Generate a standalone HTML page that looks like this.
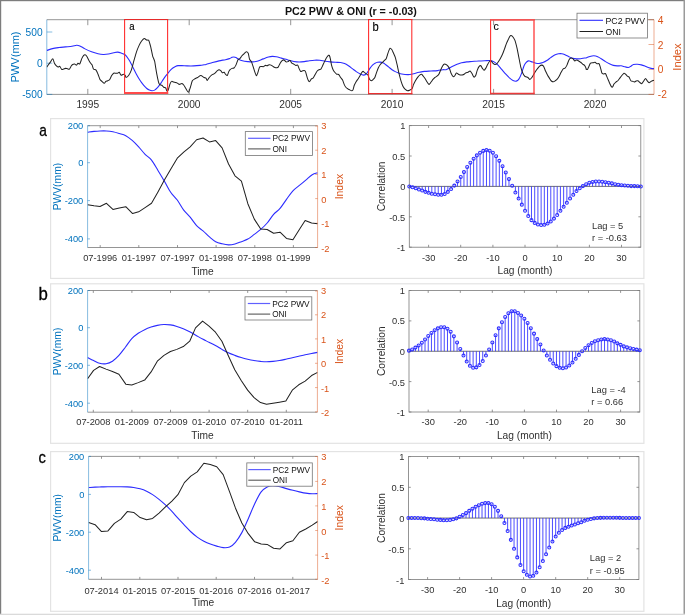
<!DOCTYPE html>
<html><head><meta charset="utf-8"><title>PC2 PWV &amp; ONI</title>
<style>html,body{margin:0;padding:0;background:#fff;}svg{display:block;will-change:transform;}body{font-family:"Liberation Sans",sans-serif;}</style></head>
<body>
<svg width="685" height="615" viewBox="0 0 685 615" font-family="Liberation Sans, sans-serif">
<g opacity="0.995">
<rect x="0" y="0" width="685" height="615" fill="#fff"/>
<g fill="none">
<path d="M46.8,19.7 H654.0 M46.8,94.4 H654.0" stroke="#7a7a7a" stroke-width="0.8"/>
<path d="M87.8,94.4 v-5.5 M87.8,19.7 v5.5 M189.2,94.4 v-5.5 M189.2,19.7 v5.5 M290.7,94.4 v-5.5 M290.7,19.7 v5.5 M392.1,94.4 v-5.5 M392.1,19.7 v5.5 M493.6,94.4 v-5.5 M493.6,19.7 v5.5 M595.0,94.4 v-5.5 M595.0,19.7 v5.5" stroke="#7a7a7a" stroke-width="0.8"/>
<path d="M46.8,19.7 V94.4 M46.8,32 h5.5 M46.8,63.2 h5.5 M46.8,94.4 h5.5" stroke="#0072BD" stroke-width="0.8" opacity="0.6"/>
<path d="M654.0,19.7 V94.4 M654.0,19.7 h-5.5 M654.0,44.5 h-5.5 M654.0,69.4 h-5.5 M654.0,94.4 h-5.5" stroke="#D95319" stroke-width="0.8" opacity="0.6"/>
</g>
<clipPath id="ct"><rect x="46.8" y="19.7" width="607.2" height="74.7"/></clipPath>
<g clip-path="url(#ct)" fill="none" stroke-linejoin="round">
<path d="M46.65,50.56 C47.63,50.24 50.44,49.11 52.50,48.61 C54.56,48.11 56.84,47.85 59.01,47.57 C61.18,47.29 63.34,47.14 65.51,46.92 C67.68,46.70 70.17,46.55 72.02,46.27 C73.86,45.99 75.27,45.29 76.57,45.23 C77.87,45.16 78.41,45.27 79.82,45.88 C81.23,46.49 83.07,47.87 85.02,48.87 C86.98,49.87 89.36,51.04 91.53,51.86 C93.70,52.69 96.08,53.38 98.03,53.81 C99.98,54.25 101.50,54.42 103.24,54.46 C104.97,54.51 106.70,54.36 108.44,54.07 C110.17,53.79 112.12,53.10 113.64,52.77 C115.16,52.45 116.24,52.06 117.54,52.12 C118.85,52.19 120.15,52.69 121.45,53.16 C122.75,53.64 124.16,53.96 125.35,54.98 C126.54,56.00 127.63,57.80 128.60,59.28 C129.58,60.75 130.34,62.20 131.20,63.83 C132.07,65.46 132.94,67.30 133.80,69.03 C134.67,70.77 135.54,72.61 136.41,74.24 C137.27,75.86 138.14,77.38 139.01,78.79 C139.88,80.20 140.74,81.50 141.61,82.69 C142.48,83.88 143.34,84.97 144.21,85.94 C145.08,86.92 145.95,87.85 146.81,88.54 C147.68,89.24 148.55,89.74 149.41,90.11 C150.28,90.47 151.15,90.76 152.02,90.76 C152.88,90.76 153.75,90.58 154.62,90.11 C155.49,89.63 156.35,88.80 157.22,87.89 C158.09,86.98 158.95,85.83 159.82,84.64 C160.69,83.45 161.56,82.04 162.42,80.74 C163.29,79.44 164.16,78.03 165.02,76.84 C165.89,75.64 166.76,74.67 167.63,73.59 C168.49,72.50 169.36,71.27 170.23,70.33 C171.09,69.40 171.96,68.64 172.83,67.99 C173.70,67.34 174.56,66.82 175.43,66.43 C176.30,66.04 176.95,65.78 178.03,65.65 C179.12,65.52 180.42,65.61 181.93,65.65 C183.45,65.69 185.19,65.87 187.14,65.91 C189.09,65.95 191.47,66.00 193.64,65.91 C195.81,65.82 198.41,65.59 200.15,65.39 C201.88,65.20 203.07,64.89 204.05,64.74 C205.02,64.59 204.59,64.85 206.00,64.48 C207.41,64.11 210.34,63.14 212.50,62.53 C214.67,61.92 216.84,61.31 219.01,60.84 C221.18,60.36 223.78,60.04 225.51,59.67 C227.25,59.30 228.33,59.02 229.41,58.63 C230.50,58.24 231.26,57.61 232.02,57.33 C232.78,57.04 233.32,56.89 233.97,56.93 C234.62,56.98 235.16,57.20 235.92,57.59 C236.68,57.98 237.44,58.73 238.52,59.28 C239.60,59.82 240.91,60.45 242.42,60.84 C243.94,61.23 245.89,61.44 247.63,61.62 C249.36,61.79 251.09,61.99 252.83,61.88 C254.56,61.77 256.30,61.47 258.03,60.97 C259.77,60.47 261.50,59.54 263.24,58.89 C264.97,58.24 266.92,57.48 268.44,57.07 C269.96,56.65 271.04,56.46 272.34,56.41 C273.64,56.37 274.73,56.52 276.24,56.80 C277.76,57.09 279.82,57.69 281.45,58.11 C283.07,58.52 284.59,58.86 286.00,59.28 C287.41,59.69 288.60,60.21 289.90,60.58 C291.20,60.95 292.29,61.25 293.80,61.49 C295.32,61.73 297.27,61.99 299.01,62.01 C300.74,62.03 302.48,61.83 304.21,61.62 C305.95,61.40 307.68,60.95 309.41,60.71 C311.15,60.47 312.88,60.25 314.62,60.19 C316.35,60.12 318.09,60.14 319.82,60.32 C321.56,60.49 323.29,60.97 325.02,61.23 C326.76,61.49 328.49,61.70 330.23,61.88 C331.96,62.05 333.70,62.16 335.43,62.27 C337.17,62.38 339.12,62.31 340.63,62.53 C342.15,62.75 343.24,63.03 344.54,63.57 C345.84,64.11 347.14,64.93 348.44,65.78 C349.74,66.63 351.04,67.67 352.34,68.64 C353.64,69.62 354.94,70.75 356.24,71.63 C357.54,72.52 358.95,73.39 360.15,73.98 C361.34,74.56 362.42,75.10 363.40,75.15 C364.37,75.19 365.24,74.82 366.00,74.24 C366.76,73.65 367.30,72.61 367.95,71.63 C368.60,70.66 369.14,69.47 369.90,68.38 C370.66,67.30 371.64,66.00 372.50,65.13 C373.37,64.26 374.24,63.66 375.11,63.18 C375.97,62.70 376.84,62.44 377.71,62.27 C378.57,62.09 379.44,62.05 380.31,62.14 C381.18,62.22 382.04,62.40 382.91,62.79 C383.78,63.18 384.54,63.76 385.51,64.48 C386.49,65.20 387.68,66.21 388.76,67.08 C389.85,67.95 390.93,68.92 392.02,69.68 C393.10,70.44 394.18,71.09 395.27,71.63 C396.35,72.18 397.44,72.54 398.52,72.93 C399.60,73.33 400.69,73.72 401.77,73.98 C402.86,74.24 403.94,74.39 405.02,74.50 C406.11,74.60 407.19,74.67 408.28,74.63 C409.36,74.58 410.34,74.47 411.53,74.24 C412.72,74.00 414.13,73.52 415.43,73.20 C416.73,72.87 417.82,72.59 419.33,72.28 C420.85,71.98 422.59,71.59 424.54,71.37 C426.49,71.16 428.87,71.11 431.04,70.98 C433.21,70.85 435.59,70.81 437.54,70.59 C439.50,70.38 441.34,69.83 442.75,69.68 C444.16,69.53 444.81,70.01 446.00,69.68 C447.19,69.36 448.60,68.38 449.90,67.73 C451.20,67.08 452.50,66.39 453.80,65.78 C455.11,65.17 456.41,64.59 457.71,64.09 C459.01,63.59 460.09,63.16 461.61,62.79 C463.13,62.42 465.08,62.09 466.81,61.88 C468.55,61.66 470.07,61.64 472.02,61.49 C473.97,61.34 476.35,61.10 478.52,60.97 C480.69,60.84 483.07,60.77 485.02,60.71 C486.98,60.64 488.71,60.38 490.23,60.58 C491.75,60.77 492.83,61.12 494.13,61.88 C495.43,62.64 496.73,63.83 498.03,65.13 C499.33,66.43 500.63,68.17 501.93,69.68 C503.24,71.20 504.54,72.83 505.84,74.24 C507.14,75.64 508.55,77.10 509.74,78.14 C510.93,79.18 511.91,79.98 512.99,80.48 C514.08,80.98 515.27,81.35 516.24,81.13 C517.22,80.91 517.98,80.44 518.85,79.18 C519.71,77.92 520.58,75.82 521.45,73.59 C522.31,71.35 523.29,67.62 524.05,65.78 C524.81,63.94 525.24,63.35 526.00,62.53 C526.76,61.70 527.73,60.99 528.60,60.84 C529.47,60.69 530.12,61.27 531.20,61.62 C532.29,61.96 533.80,62.62 535.11,62.92 C536.41,63.22 537.71,63.50 539.01,63.44 C540.31,63.37 541.61,63.01 542.91,62.53 C544.21,62.05 545.51,61.40 546.81,60.58 C548.11,59.75 549.41,58.50 550.72,57.59 C552.02,56.67 553.32,55.74 554.62,55.11 C555.92,54.49 557.33,54.05 558.52,53.81 C559.71,53.57 560.69,53.53 561.77,53.68 C562.86,53.83 563.83,54.22 565.02,54.72 C566.22,55.22 567.63,56.07 568.93,56.67 C570.23,57.28 571.53,58.00 572.83,58.37 C574.13,58.73 575.43,58.82 576.73,58.89 C578.03,58.95 579.33,58.91 580.63,58.76 C581.93,58.60 583.64,58.11 584.54,57.98 C585.43,57.85 585.11,58.24 586.00,57.98 C586.89,57.72 588.60,56.78 589.90,56.41 C591.20,56.05 592.50,55.72 593.80,55.76 C595.11,55.81 596.41,56.13 597.71,56.67 C599.01,57.22 600.31,58.19 601.61,59.02 C602.91,59.84 604.21,60.82 605.51,61.62 C606.81,62.42 608.11,63.20 609.41,63.83 C610.72,64.46 612.02,65.04 613.32,65.39 C614.62,65.74 615.92,65.85 617.22,65.91 C618.52,65.98 619.82,65.63 621.12,65.78 C622.42,65.93 623.83,66.54 625.02,66.82 C626.22,67.10 627.30,67.58 628.28,67.47 C629.25,67.36 630.01,66.67 630.88,66.17 C631.75,65.67 632.40,64.80 633.48,64.48 C634.56,64.15 636.08,64.15 637.38,64.22 C638.68,64.28 639.98,64.54 641.28,64.87 C642.59,65.20 643.89,65.69 645.19,66.17 C646.49,66.65 647.90,67.32 649.09,67.73 C650.28,68.14 651.47,68.53 652.34,68.64 C653.21,68.75 653.97,68.43 654.29,68.38" stroke="#2c2cff" stroke-width="1.1"/>
<path d="M46.65,67.08 C46.88,66.78 48.15,65.09 48.60,64.48 C49.06,63.87 50.07,62.56 50.55,61.88 C51.04,61.20 52.31,58.47 52.76,58.63 C53.22,58.78 54.03,62.34 54.46,63.18 C54.88,64.01 55.95,65.33 56.41,65.78 C56.86,66.24 57.98,67.04 58.36,67.08 C58.74,67.13 59.28,65.91 59.66,66.17 C60.04,66.43 61.15,68.96 61.61,69.29 C62.07,69.63 63.11,69.14 63.56,69.03 C64.02,68.93 65.06,68.41 65.51,68.38 C65.97,68.35 67.01,68.70 67.46,68.77 C67.92,68.85 68.96,69.38 69.41,69.03 C69.87,68.68 70.99,66.31 71.37,65.78 C71.75,65.25 72.29,64.68 72.67,64.48 C73.05,64.28 74.16,64.01 74.62,64.09 C75.07,64.17 76.19,65.24 76.57,65.13 C76.95,65.02 77.49,63.33 77.87,63.18 C78.25,63.03 79.37,64.36 79.82,63.83 C80.28,63.30 81.32,59.61 81.77,58.63 C82.23,57.64 83.34,55.83 83.72,55.37 C84.10,54.92 84.69,54.65 85.02,54.72 C85.36,54.80 86.13,55.34 86.59,56.02 C87.04,56.71 88.43,59.70 88.93,60.58 C89.43,61.46 90.50,63.04 90.88,63.57 C91.26,64.10 91.88,64.49 92.18,65.13 C92.48,65.77 93.02,68.46 93.48,69.03 C93.93,69.61 95.55,69.47 96.08,70.07 C96.61,70.68 97.58,73.14 98.03,74.24 C98.49,75.33 99.53,78.60 99.98,79.44 C100.44,80.27 101.43,80.93 101.93,81.39 C102.44,81.85 103.82,83.34 104.28,83.34 C104.73,83.34 105.43,81.69 105.84,81.39 C106.25,81.09 107.33,80.97 107.79,80.74 C108.24,80.51 109.28,80.05 109.74,79.44 C110.20,78.83 111.24,76.27 111.69,75.54 C112.15,74.81 113.19,73.47 113.64,73.20 C114.10,72.92 115.14,73.20 115.59,73.20 C116.05,73.20 117.12,73.30 117.54,73.20 C117.97,73.09 118.81,72.04 119.24,72.28 C119.66,72.53 120.70,75.05 121.19,75.28 C121.67,75.50 122.91,74.21 123.40,74.24 C123.88,74.27 125.05,75.16 125.35,75.54 C125.65,75.92 125.62,77.49 126.00,77.49 C126.38,77.49 127.99,76.37 128.60,75.54 C129.21,74.70 130.60,72.00 131.20,70.33 C131.81,68.66 133.20,63.35 133.80,61.23 C134.41,59.10 135.80,53.94 136.41,52.12 C137.01,50.30 138.40,46.91 139.01,45.62 C139.62,44.33 141.00,41.90 141.61,41.07 C142.22,40.23 143.60,38.57 144.21,38.46 C144.82,38.36 146.28,39.93 146.81,40.15 C147.34,40.38 148.31,39.63 148.76,40.41 C149.22,41.20 150.26,45.10 150.72,46.92 C151.17,48.74 152.21,54.36 152.67,56.02 C153.12,57.69 154.16,59.25 154.62,61.23 C155.07,63.20 156.11,70.51 156.57,72.93 C157.02,75.36 158.14,80.67 158.52,82.04 C158.90,83.41 159.44,84.26 159.82,84.64 C160.20,85.02 161.32,84.99 161.77,85.29 C162.23,85.60 163.27,86.94 163.72,87.24 C164.18,87.55 165.30,87.44 165.67,87.89 C166.05,88.35 166.67,90.92 166.98,91.15 C167.28,91.37 167.90,90.76 168.28,89.85 C168.66,88.93 169.82,84.33 170.23,83.34 C170.64,82.36 171.41,81.54 171.79,81.39 C172.17,81.24 173.05,81.92 173.48,82.04 C173.90,82.16 174.98,82.31 175.43,82.43 C175.89,82.55 176.93,82.85 177.38,83.08 C177.84,83.31 178.80,84.32 179.33,84.38 C179.86,84.44 181.40,83.50 181.93,83.60 C182.47,83.71 183.43,84.72 183.89,85.29 C184.34,85.87 185.31,87.74 185.84,88.54 C186.37,89.35 187.91,92.34 188.44,92.19 C188.97,92.04 189.93,88.58 190.39,87.24 C190.85,85.91 191.81,81.73 192.34,80.74 C192.87,79.75 194.34,79.17 194.94,78.79 C195.55,78.41 196.86,77.87 197.54,77.49 C198.23,77.11 200.04,75.54 200.80,75.54 C201.56,75.54 203.44,77.18 204.05,77.49 C204.66,77.79 205.62,77.79 206.00,78.14 C206.38,78.49 206.92,80.56 207.30,80.48 C207.68,80.40 208.72,78.14 209.25,77.49 C209.78,76.84 211.25,75.34 211.85,74.89 C212.46,74.43 213.85,74.04 214.46,73.59 C215.06,73.13 216.53,71.44 217.06,70.98 C217.59,70.53 218.55,69.68 219.01,69.68 C219.46,69.68 220.58,70.63 220.96,70.98 C221.34,71.33 221.88,72.52 222.26,72.67 C222.64,72.83 223.83,72.10 224.21,72.28 C224.59,72.47 225.16,73.86 225.51,74.24 C225.86,74.62 226.82,75.84 227.20,75.54 C227.58,75.23 228.43,72.32 228.76,71.63 C229.10,70.95 229.69,70.06 230.07,69.68 C230.44,69.30 231.56,68.58 232.02,68.38 C232.47,68.18 233.51,68.37 233.97,67.99 C234.42,67.61 235.46,66.07 235.92,65.13 C236.37,64.19 237.41,60.69 237.87,59.93 C238.33,59.17 239.37,59.08 239.82,58.63 C240.28,58.17 241.32,56.56 241.77,56.02 C242.23,55.49 243.27,54.53 243.72,54.07 C244.18,53.62 245.30,52.38 245.67,52.12 C246.05,51.86 246.67,51.71 246.98,51.86 C247.28,52.01 247.97,52.56 248.28,53.42 C248.58,54.29 249.20,58.29 249.58,59.28 C249.96,60.26 251.07,60.89 251.53,61.88 C251.98,62.86 253.05,66.44 253.48,67.73 C253.90,69.02 254.82,71.99 255.17,72.93 C255.52,73.88 256.17,75.80 256.47,75.80 C256.78,75.80 257.41,73.95 257.77,72.93 C258.14,71.92 259.18,67.84 259.59,67.08 C260.00,66.32 260.86,66.48 261.28,66.43 C261.71,66.39 262.78,66.81 263.24,66.69 C263.69,66.57 264.73,65.50 265.19,65.39 C265.64,65.28 266.68,65.86 267.14,65.78 C267.59,65.70 268.63,64.82 269.09,64.74 C269.54,64.66 270.59,64.93 271.04,65.13 C271.50,65.33 272.54,66.16 272.99,66.43 C273.45,66.70 274.49,67.32 274.94,67.47 C275.40,67.62 276.51,67.78 276.89,67.73 C277.27,67.69 277.82,67.61 278.20,67.08 C278.57,66.55 279.69,63.94 280.15,63.18 C280.60,62.42 281.64,60.96 282.10,60.58 C282.55,60.20 283.59,59.78 284.05,59.93 C284.50,60.08 285.54,61.68 286.00,61.88 C286.46,62.08 287.50,61.80 287.95,61.62 C288.41,61.44 289.45,60.13 289.90,60.32 C290.36,60.50 291.40,62.74 291.85,63.18 C292.31,63.62 293.35,63.83 293.80,64.09 C294.26,64.35 295.30,65.27 295.76,65.39 C296.21,65.51 297.33,64.78 297.71,65.13 C298.09,65.48 298.67,67.65 299.01,68.38 C299.34,69.11 300.19,71.07 300.57,71.37 C300.95,71.68 301.84,71.07 302.26,70.98 C302.69,70.89 303.83,70.52 304.21,70.59 C304.59,70.67 305.21,70.98 305.51,71.63 C305.82,72.29 306.51,75.20 306.81,76.19 C307.12,77.17 307.81,79.45 308.11,80.09 C308.42,80.73 309.04,81.80 309.41,81.65 C309.79,81.50 310.91,79.23 311.37,78.79 C311.82,78.35 312.86,78.41 313.32,77.88 C313.77,77.35 314.81,75.04 315.27,74.24 C315.72,73.43 316.76,71.51 317.22,70.98 C317.67,70.45 318.75,69.91 319.17,69.68 C319.60,69.46 320.48,69.44 320.86,69.03 C321.24,68.62 322.01,67.01 322.42,66.17 C322.83,65.34 323.92,62.83 324.37,61.88 C324.83,60.92 325.92,58.69 326.33,57.98 C326.73,57.26 327.54,56.07 327.89,55.76 C328.24,55.46 329.01,54.96 329.32,55.37 C329.62,55.78 330.23,58.14 330.49,59.28 C330.75,60.41 331.22,63.92 331.53,65.13 C331.83,66.34 332.71,68.85 333.09,69.68 C333.47,70.52 334.36,71.75 334.78,72.28 C335.21,72.82 336.28,73.98 336.73,74.24 C337.19,74.49 338.23,74.12 338.68,74.50 C339.14,74.88 340.18,76.84 340.63,77.49 C341.09,78.14 342.16,79.25 342.59,80.09 C343.01,80.92 343.90,83.81 344.28,84.64 C344.66,85.48 345.43,86.76 345.84,87.24 C346.25,87.73 347.33,88.50 347.79,88.80 C348.24,89.11 349.28,89.62 349.74,89.85 C350.20,90.07 351.31,90.76 351.69,90.76 C352.07,90.76 352.69,90.48 352.99,89.85 C353.30,89.21 353.91,86.28 354.29,85.29 C354.67,84.31 355.79,82.15 356.24,81.39 C356.70,80.63 357.74,79.47 358.20,78.79 C358.65,78.11 359.77,76.22 360.15,75.54 C360.53,74.85 361.11,73.42 361.45,72.93 C361.78,72.45 362.63,71.40 363.01,71.37 C363.39,71.34 364.35,72.42 364.70,72.67 C365.05,72.93 365.62,73.33 366.00,73.59 C366.38,73.84 367.57,74.28 367.95,74.89 C368.33,75.49 368.87,78.11 369.25,78.79 C369.63,79.47 370.75,80.66 371.20,80.74 C371.66,80.82 372.73,79.82 373.15,79.44 C373.58,79.06 374.47,78.25 374.85,77.49 C375.22,76.73 376.00,74.07 376.41,72.93 C376.82,71.80 377.90,68.72 378.36,67.73 C378.81,66.75 379.85,65.09 380.31,64.48 C380.76,63.87 381.80,62.98 382.26,62.53 C382.72,62.07 383.76,61.03 384.21,60.58 C384.67,60.12 385.78,59.31 386.16,58.63 C386.54,57.94 387.16,55.63 387.46,54.72 C387.77,53.81 388.46,51.58 388.76,50.82 C389.07,50.06 389.72,48.37 390.07,48.22 C390.41,48.07 391.38,48.99 391.76,49.52 C392.14,50.05 392.91,51.86 393.32,52.77 C393.73,53.68 394.81,55.88 395.27,57.33 C395.72,58.77 396.76,63.16 397.22,65.13 C397.67,67.10 398.72,72.34 399.17,74.24 C399.63,76.13 400.67,79.95 401.12,81.39 C401.58,82.83 402.62,85.68 403.07,86.59 C403.53,87.50 404.49,88.71 405.02,89.20 C405.56,89.68 407.02,90.68 407.63,90.76 C408.23,90.83 409.70,90.10 410.23,89.85 C410.76,89.59 411.80,89.15 412.18,88.54 C412.56,87.94 413.10,85.55 413.48,84.64 C413.86,83.73 414.90,81.65 415.43,80.74 C415.96,79.83 417.50,77.52 418.03,76.84 C418.56,76.15 419.56,75.19 419.98,74.89 C420.41,74.58 421.30,74.08 421.67,74.24 C422.05,74.39 422.83,75.66 423.24,76.19 C423.65,76.72 424.73,78.11 425.19,78.79 C425.64,79.47 426.68,81.39 427.14,82.04 C427.59,82.69 428.63,84.38 429.09,84.38 C429.54,84.38 430.59,82.62 431.04,82.04 C431.50,81.46 432.54,79.97 432.99,79.44 C433.45,78.91 434.49,77.87 434.94,77.49 C435.40,77.11 436.44,76.57 436.89,76.19 C437.35,75.81 438.39,74.99 438.85,74.24 C439.30,73.48 440.34,70.67 440.80,69.68 C441.25,68.70 442.37,66.42 442.75,65.78 C443.13,65.14 443.67,64.37 444.05,64.22 C444.43,64.07 445.54,64.25 446.00,64.48 C446.46,64.71 447.53,65.64 447.95,66.17 C448.38,66.70 449.26,68.17 449.64,69.03 C450.02,69.90 450.79,72.71 451.20,73.59 C451.61,74.47 452.73,76.35 453.15,76.58 C453.58,76.80 454.47,75.96 454.85,75.54 C455.22,75.11 456.00,73.09 456.41,72.93 C456.82,72.78 457.90,74.01 458.36,74.24 C458.81,74.46 459.85,74.81 460.31,74.89 C460.76,74.96 461.80,74.96 462.26,74.89 C462.72,74.81 463.76,74.49 464.21,74.24 C464.67,73.98 465.71,72.90 466.16,72.67 C466.62,72.45 467.66,72.48 468.11,72.28 C468.57,72.09 469.61,70.83 470.07,70.98 C470.52,71.14 471.56,72.87 472.02,73.59 C472.47,74.30 473.54,76.87 473.97,77.10 C474.39,77.33 475.28,76.33 475.66,75.54 C476.04,74.75 476.81,71.40 477.22,70.33 C477.63,69.27 478.75,66.96 479.17,66.43 C479.60,65.90 480.48,65.55 480.86,65.78 C481.24,66.01 482.06,67.85 482.42,68.38 C482.79,68.91 483.60,70.33 483.98,70.33 C484.36,70.33 485.25,69.07 485.67,68.38 C486.10,67.70 487.17,65.31 487.63,64.48 C488.08,63.64 489.20,61.68 489.58,61.23 C489.96,60.77 490.50,60.35 490.88,60.58 C491.26,60.80 492.37,62.72 492.83,63.18 C493.28,63.63 494.33,64.40 494.78,64.48 C495.24,64.56 496.28,64.21 496.73,63.83 C497.19,63.45 498.23,61.91 498.68,61.23 C499.14,60.54 500.18,58.81 500.63,57.98 C501.09,57.14 502.13,55.14 502.59,54.07 C503.04,53.01 504.08,50.11 504.54,48.87 C504.99,47.63 506.06,44.47 506.49,43.41 C506.91,42.34 507.80,40.57 508.18,39.76 C508.56,38.96 509.42,37.01 509.74,36.51 C510.06,36.01 510.58,35.47 510.91,35.47 C511.24,35.47 512.13,35.94 512.60,36.51 C513.07,37.09 514.43,39.05 514.94,40.41 C515.46,41.78 516.57,46.25 517.02,48.22 C517.48,50.19 518.41,55.12 518.85,57.33 C519.29,59.53 520.34,65.26 520.80,67.08 C521.25,68.90 522.29,71.87 522.75,72.93 C523.20,74.00 524.32,75.73 524.70,76.19 C525.08,76.64 525.62,76.69 526.00,76.84 C526.38,76.99 527.50,77.18 527.95,77.49 C528.41,77.79 529.45,79.44 529.90,79.44 C530.36,79.44 531.40,78.09 531.85,77.49 C532.31,76.88 533.35,74.99 533.80,74.24 C534.26,73.48 535.30,71.67 535.76,70.98 C536.21,70.30 537.25,68.94 537.71,68.38 C538.16,67.82 539.20,66.55 539.66,66.17 C540.11,65.79 541.15,65.13 541.61,65.13 C542.07,65.13 543.11,65.49 543.56,66.17 C544.02,66.85 545.06,69.97 545.51,70.98 C545.97,72.00 547.01,74.05 547.46,74.89 C547.92,75.72 548.96,77.42 549.41,78.14 C549.87,78.85 550.91,80.58 551.37,81.00 C551.82,81.42 552.86,81.81 553.32,81.78 C553.77,81.75 554.81,81.04 555.27,80.74 C555.72,80.44 556.76,79.71 557.22,79.18 C557.67,78.65 558.72,76.99 559.17,76.19 C559.63,75.38 560.67,73.12 561.12,72.28 C561.58,71.45 562.62,69.52 563.07,69.03 C563.53,68.55 564.57,68.58 565.02,68.12 C565.48,67.67 566.52,66.09 566.98,65.13 C567.43,64.17 568.47,60.76 568.93,59.93 C569.38,59.09 570.42,58.13 570.88,57.98 C571.33,57.82 572.37,58.28 572.83,58.63 C573.28,58.98 574.33,60.82 574.78,60.97 C575.24,61.12 576.28,59.93 576.73,59.93 C577.19,59.93 578.23,60.69 578.68,60.97 C579.14,61.24 580.18,61.90 580.63,62.27 C581.09,62.63 582.13,63.73 582.59,64.09 C583.04,64.45 584.13,64.89 584.54,65.39 C584.95,65.89 585.93,67.96 586.10,68.38 C586.27,68.81 585.83,68.93 586.00,69.03 C586.17,69.14 587.23,69.60 587.56,69.29 C587.89,68.99 588.51,67.14 588.86,66.43 C589.21,65.72 590.05,63.60 590.55,63.18 C591.05,62.75 592.62,62.89 593.15,62.79 C593.69,62.68 594.65,62.15 595.11,62.27 C595.56,62.39 596.60,63.68 597.06,63.83 C597.51,63.98 598.63,63.19 599.01,63.57 C599.39,63.95 599.98,65.99 600.31,67.08 C600.64,68.17 601.49,72.13 601.87,72.93 C602.25,73.74 603.14,73.90 603.56,73.98 C603.99,74.05 605.06,73.10 605.51,73.59 C605.97,74.07 607.01,77.08 607.46,78.14 C607.92,79.20 608.96,81.70 609.41,82.69 C609.87,83.68 610.99,86.09 611.37,86.59 C611.75,87.09 612.36,87.29 612.67,86.98 C612.97,86.68 613.59,84.57 613.97,83.99 C614.35,83.42 615.46,82.42 615.92,82.04 C616.37,81.66 617.41,81.20 617.87,80.74 C618.33,80.28 619.37,78.75 619.82,78.14 C620.28,77.53 621.29,76.11 621.77,75.54 C622.26,74.96 623.53,73.35 623.98,73.20 C624.44,73.04 625.28,73.89 625.67,74.24 C626.07,74.58 626.99,75.88 627.37,76.19 C627.75,76.49 628.52,76.31 628.93,76.84 C629.34,77.37 630.42,80.21 630.88,80.74 C631.33,81.27 632.42,81.24 632.83,81.39 C633.24,81.54 634.01,82.09 634.39,82.04 C634.77,82.00 635.66,81.15 636.08,81.00 C636.51,80.85 637.58,80.54 638.03,80.74 C638.49,80.94 639.53,82.36 639.98,82.69 C640.44,83.02 641.48,83.83 641.93,83.60 C642.39,83.37 643.46,81.35 643.89,80.74 C644.31,80.13 645.20,78.40 645.58,78.40 C645.96,78.40 646.73,80.24 647.14,80.74 C647.55,81.24 648.63,82.62 649.09,82.69 C649.54,82.77 650.59,81.65 651.04,81.39 C651.50,81.13 652.61,80.63 652.99,80.48 C653.37,80.33 654.14,80.13 654.29,80.09" stroke="#202020" stroke-width="1.02"/>
</g>
<path d="M124.6,18.95 V93.9" stroke="#ff2626" stroke-width="1.05" fill="none"/>
<path d="M167.6,18.95 V93.9" stroke="#ff3030" stroke-width="1.1" fill="none"/>
<path d="M124.1,19.5 H168.15" stroke="#e62a2a" stroke-width="1.1" fill="none"/>
<path d="M124.1,92.9 H168.15" stroke="#ff4a4a" stroke-width="2.0" fill="none"/>
<path d="M368.6,18.95 V94.19999999999999" stroke="#ff2626" stroke-width="1.05" fill="none"/>
<path d="M411.8,18.95 V94.19999999999999" stroke="#ff3030" stroke-width="1.1" fill="none"/>
<path d="M368.1,19.5 H412.35" stroke="#e62a2a" stroke-width="1.1" fill="none"/>
<path d="M368.1,93.6 H412.35" stroke="#e83030" stroke-width="1.2" fill="none"/>
<path d="M490.6,19.099999999999998 V94.15" stroke="#ff2626" stroke-width="1.05" fill="none"/>
<path d="M534.0,19.099999999999998 V94.15" stroke="#ff3030" stroke-width="1.25" fill="none"/>
<path d="M490.1,19.9 H534.625" stroke="#f25555" stroke-width="1.6" fill="none"/>
<path d="M490.1,93.5 H534.625" stroke="#ea3a3a" stroke-width="1.3" fill="none"/>
<text transform="translate(129.3,29.6) scale(0.82,1)" font-size="11.7" fill="#000" stroke="#000" stroke-width="0.15">a</text>
<text transform="translate(372.5,30.8) scale(0.9,1)" font-size="12.4" fill="#000" stroke="#000" stroke-width="0.15">b</text>
<text transform="translate(493.5,29.8) scale(0.92,1)" font-size="11.5" fill="#000" stroke="#000" stroke-width="0.15">c</text>
<rect x="577" y="13.2" width="70.5" height="24.8" fill="#fff" stroke="#757575" stroke-width="0.8"/>
<path d="M579.5,20.3 h23.5" stroke="#2c2cff" stroke-width="1.1"/><path d="M579.5,31.5 h23.5" stroke="#202020" stroke-width="1.02"/>
<text x="605.5" y="23.5" font-size="8.6" fill="#111" textLength="39.5" lengthAdjust="spacingAndGlyphs">PC2 PWV</text>
<text x="605.5" y="34.7" font-size="8.6" fill="#111">ONI</text>
<text x="350.9" y="15.4" font-size="10.4" font-weight="bold" fill="#111" text-anchor="middle" textLength="132" lengthAdjust="spacingAndGlyphs">PC2 PWV &amp; ONI (r = -0.03)</text>
<text x="87.8" y="108.3" font-size="10.2" fill="#303030" text-anchor="middle">1995</text>
<text x="189.2" y="108.3" font-size="10.2" fill="#303030" text-anchor="middle">2000</text>
<text x="290.7" y="108.3" font-size="10.2" fill="#303030" text-anchor="middle">2005</text>
<text x="392.1" y="108.3" font-size="10.2" fill="#303030" text-anchor="middle">2010</text>
<text x="493.6" y="108.3" font-size="10.2" fill="#303030" text-anchor="middle">2015</text>
<text x="595.0" y="108.3" font-size="10.2" fill="#303030" text-anchor="middle">2020</text>
<text x="42.6" y="35.9" font-size="10.2" fill="#0072BD" text-anchor="end">500</text>
<text x="42.6" y="67.10000000000001" font-size="10.2" fill="#0072BD" text-anchor="end">0</text>
<text x="42.6" y="98.30000000000001" font-size="10.2" fill="#0072BD" text-anchor="end">-500</text>
<text x="657.8" y="23.7" font-size="10.2" fill="#D95319">4</text>
<text x="657.8" y="48.5" font-size="10.2" fill="#D95319">2</text>
<text x="657.8" y="73.4" font-size="10.2" fill="#D95319">0</text>
<text x="657.8" y="98.4" font-size="10.2" fill="#D95319">-2</text>
<text transform="translate(18.5,57) rotate(-90)" font-size="11.1" fill="#0072BD" text-anchor="middle">PWV(mm)</text>
<text transform="translate(680.5,57) rotate(-90)" font-size="11.2" fill="#D95319" text-anchor="middle">Index</text>
<rect x="50.6" y="118.6" width="593.3" height="159.79999999999998" fill="#fff" stroke="#e3e3e3" stroke-width="1.2"/>
<text transform="translate(39.2,136.4) scale(0.83,1)" font-size="16.5" fill="#000" stroke="#000" stroke-width="0.3">a</text>
<g fill="none">
<path d="M87.6,125.7 H317.6 M87.6,247.5 H317.6" stroke="#7a7a7a" stroke-width="0.8"/>
<path d="M100.2,247.5 v-2.4 M100.2,125.7 v2.4 M138.8,247.5 v-2.4 M138.8,125.7 v2.4 M177.5,247.5 v-2.4 M177.5,125.7 v2.4 M216.1,247.5 v-2.4 M216.1,125.7 v2.4 M254.8,247.5 v-2.4 M254.8,125.7 v2.4 M293.4,247.5 v-2.4 M293.4,125.7 v2.4" stroke="#7a7a7a" stroke-width="0.8"/>
<path d="M87.6,125.7 V247.5 M87.6,125.7 h2.4 M87.6,162.7 h2.4 M87.6,200.6 h2.4 M87.6,238.9 h2.4" stroke="#0072BD" stroke-width="0.8" opacity="0.6"/>
<path d="M317.6,125.7 V247.5 M317.6,126.0 h-2.4 M317.6,150.2 h-2.4 M317.6,174.4 h-2.4 M317.6,198.6 h-2.4 M317.6,223.2 h-2.4 M317.6,247.5 h-2.4" stroke="#D95319" stroke-width="0.8" opacity="0.6"/>
</g>
<clipPath id="cp0"><rect x="87.6" y="125.7" width="230.00000000000003" height="121.8"/></clipPath>
<g clip-path="url(#cp0)" fill="none" stroke-linejoin="round">
<path d="M87.58,132.23 C88.65,132.09 91.94,131.59 94.01,131.37 C96.09,131.16 97.95,131.02 100.02,130.94 C102.10,130.87 104.31,130.80 106.46,130.94 C108.61,131.09 110.75,131.37 112.90,131.80 C115.04,132.23 117.19,132.88 119.33,133.52 C121.48,134.16 123.63,134.52 125.77,135.67 C127.92,136.81 130.06,138.53 132.21,140.39 C134.36,142.25 136.50,144.50 138.65,146.82 C140.79,149.15 142.94,152.12 145.09,154.33 C147.23,156.55 149.38,157.45 151.52,160.13 C153.67,162.81 155.82,166.92 157.96,170.43 C160.11,173.93 162.25,177.47 164.40,181.16 C166.55,184.84 168.69,189.38 170.84,192.53 C172.98,195.68 175.13,197.11 177.27,200.04 C179.42,202.98 181.57,207.27 183.71,210.13 C185.86,212.99 188.00,214.64 190.15,217.21 C192.30,219.79 194.44,223.29 196.59,225.58 C198.73,227.87 200.88,229.05 203.03,230.94 C205.17,232.84 207.36,235.16 209.46,236.95 C211.57,238.74 213.56,240.53 215.67,241.67 C217.77,242.82 219.96,243.28 222.10,243.82 C224.25,244.36 226.39,244.86 228.54,244.89 C230.69,244.93 232.83,244.57 234.98,244.03 C237.12,243.50 239.27,242.50 241.42,241.67 C243.56,240.85 245.71,240.31 247.85,239.10 C250.00,237.88 252.15,235.99 254.29,234.38 C256.44,232.77 258.58,231.34 260.73,229.44 C262.88,227.55 265.02,225.51 267.17,223.00 C269.31,220.50 271.46,216.85 273.61,214.42 C275.75,211.99 277.90,210.92 280.04,208.41 C282.19,205.91 284.33,202.33 286.48,199.40 C288.63,196.47 290.77,193.14 292.92,190.82 C295.06,188.49 297.21,187.24 299.36,185.45 C301.50,183.66 303.65,181.87 305.79,180.09 C307.94,178.30 310.26,175.94 312.23,174.72 C314.20,173.51 316.70,173.11 317.60,172.79" stroke="#2c2cff" stroke-width="1.1"/>
<path d="M87.58,204.76 L94.01,205.84 L100.02,206.48 L106.46,203.26 L112.90,209.48 L119.33,207.98 L125.77,206.70 L132.64,213.56 L138.65,211.85 L145.09,207.55 L151.52,203.26 L157.96,191.89 L164.40,180.09 L170.84,168.93 L177.27,158.20 L183.71,152.19 L190.15,146.82 L196.59,139.74 L203.03,138.03 L209.46,141.89 L215.67,140.60 L222.10,147.90 L228.54,163.99 L234.98,175.79 L241.42,181.16 L247.85,203.69 L254.29,219.14 L260.73,229.01 L267.17,229.44 L273.61,233.30 L280.04,232.23 L286.48,238.45 L292.92,239.74 L299.36,229.44 L305.15,220.43 L311.59,223.00 L317.60,223.65" stroke="#202020" stroke-width="1.02"/>
</g>
<rect x="245.3" y="131.6" width="67.09999999999997" height="23.80000000000001" fill="#fff" stroke="#757575" stroke-width="0.8"/>
<path d="M248.10000000000002,138.29999999999998 h22.4" stroke="#2c2cff" stroke-width="1.2" opacity="0.75"/><path d="M248.10000000000002,148.9 h22.4" stroke="#202020" stroke-width="1.1" opacity="0.75"/>
<text x="272.5" y="141.29999999999998" font-size="8.2" fill="#111" textLength="37.5" lengthAdjust="spacingAndGlyphs">PC2 PWV</text>
<text x="272.5" y="151.9" font-size="8.2" fill="#111">ONI</text>
<text x="100.2" y="260.7" font-size="9.3" fill="#303030" text-anchor="middle">07-1996</text>
<text x="138.8" y="260.7" font-size="9.3" fill="#303030" text-anchor="middle">01-1997</text>
<text x="177.5" y="260.7" font-size="9.3" fill="#303030" text-anchor="middle">07-1997</text>
<text x="216.1" y="260.7" font-size="9.3" fill="#303030" text-anchor="middle">01-1998</text>
<text x="254.8" y="260.7" font-size="9.3" fill="#303030" text-anchor="middle">07-1998</text>
<text x="293.4" y="260.7" font-size="9.3" fill="#303030" text-anchor="middle">01-1999</text>
<text x="83.3" y="129.0" font-size="9.3" fill="#0072BD" text-anchor="end">200</text>
<text x="83.3" y="166.0" font-size="9.3" fill="#0072BD" text-anchor="end">0</text>
<text x="83.3" y="203.9" font-size="9.3" fill="#0072BD" text-anchor="end">-200</text>
<text x="83.3" y="242.2" font-size="9.3" fill="#0072BD" text-anchor="end">-400</text>
<text x="321.20000000000005" y="128.9" font-size="9.3" fill="#D95319">3</text>
<text x="321.20000000000005" y="153.6" font-size="9.3" fill="#D95319">2</text>
<text x="321.20000000000005" y="177.8" font-size="9.3" fill="#D95319">1</text>
<text x="321.20000000000005" y="202.6" font-size="9.3" fill="#D95319">0</text>
<text x="321.20000000000005" y="227.2" font-size="9.3" fill="#D95319">-1</text>
<text x="321.20000000000005" y="251.8" font-size="9.3" fill="#D95319">-2</text>
<text transform="translate(61.2,186.6) rotate(-90)" font-size="10.3" fill="#0072BD" text-anchor="middle">PWV(mm)</text>
<text transform="translate(343.0,186.6) rotate(-90)" font-size="10.4" fill="#D95319" text-anchor="middle">Index</text>
<text x="202.6" y="274.5" font-size="10.2" fill="#303030" text-anchor="middle">Time</text>
<rect x="409.3" y="125.6" width="231.49999999999994" height="121.6" fill="none" stroke="#7a7a7a" stroke-width="0.8"/>
<text x="428.6" y="260.5" font-size="9.3" fill="#303030" text-anchor="middle">-30</text>
<text x="460.7" y="260.5" font-size="9.3" fill="#303030" text-anchor="middle">-20</text>
<text x="492.9" y="260.5" font-size="9.3" fill="#303030" text-anchor="middle">-10</text>
<text x="525.0" y="260.5" font-size="9.3" fill="#303030" text-anchor="middle">0</text>
<text x="557.2" y="260.5" font-size="9.3" fill="#303030" text-anchor="middle">10</text>
<text x="589.4" y="260.5" font-size="9.3" fill="#303030" text-anchor="middle">20</text>
<text x="621.5" y="260.5" font-size="9.3" fill="#303030" text-anchor="middle">30</text>
<text x="405.3" y="128.9" font-size="9.3" fill="#303030" text-anchor="end">1</text>
<text x="405.3" y="159.5" font-size="9.3" fill="#303030" text-anchor="end">0.5</text>
<text x="405.3" y="190.1" font-size="9.3" fill="#303030" text-anchor="end">0</text>
<text x="405.3" y="220.8" font-size="9.3" fill="#303030" text-anchor="end">-0.5</text>
<text x="405.3" y="251.4" font-size="9.3" fill="#303030" text-anchor="end">-1</text>
<path d="M428.6,247.2 v-2.4 M428.6,125.6 v2.4 M460.7,247.2 v-2.4 M460.7,125.6 v2.4 M492.9,247.2 v-2.4 M492.9,125.6 v2.4 M525.0,247.2 v-2.4 M525.0,125.6 v2.4 M557.2,247.2 v-2.4 M557.2,125.6 v2.4 M589.4,247.2 v-2.4 M589.4,125.6 v2.4 M621.5,247.2 v-2.4 M621.5,125.6 v2.4 M409.3,125.6 h2.4 M640.8,125.6 h-2.4 M409.3,156.0 h2.4 M640.8,156.0 h-2.4 M409.3,186.4 h2.4 M640.8,186.4 h-2.4 M409.3,216.8 h2.4 M640.8,216.8 h-2.4 M409.3,247.2 h2.4 M640.8,247.2 h-2.4" stroke="#7a7a7a" stroke-width="0.8" fill="none"/>
<path d="M409.3,186.40 H640.8" stroke="#333" stroke-width="0.7"/>
<path d="M409.30,186.40 V186.40 M412.52,186.40 V187.19 M415.73,186.40 V188.22 M418.95,186.40 V189.44 M422.16,186.40 V190.41 M425.38,186.40 V191.87 M428.59,186.40 V192.84 M431.81,186.40 V193.70 M435.02,186.40 V194.30 M438.24,186.40 V194.73 M441.45,186.40 V194.73 M444.67,186.40 V193.94 M447.88,186.40 V191.87 M451.10,186.40 V189.08 M454.31,186.40 V185.61 M457.53,186.40 V181.54 M460.74,186.40 V176.98 M463.96,186.40 V172.11 M467.18,186.40 V166.94 M470.39,186.40 V162.69 M473.61,186.40 V158.74 M476.82,186.40 V155.39 M480.04,186.40 V152.78 M483.25,186.40 V150.89 M486.47,186.40 V150.10 M489.68,186.40 V150.65 M492.90,186.40 V152.78 M496.11,186.40 V156.30 M499.33,186.40 V160.86 M502.54,186.40 V166.34 M505.76,186.40 V172.42 M508.97,186.40 V179.10 M512.19,186.40 V185.79 M515.40,186.40 V192.48 M518.62,186.40 V198.56 M521.83,186.40 V204.64 M525.05,186.40 V210.72 M528.27,186.40 V215.95 M531.48,186.40 V220.14 M534.70,186.40 V222.88 M537.91,186.40 V224.52 M541.13,186.40 V225.07 M544.34,186.40 V224.70 M547.56,186.40 V223.49 M550.77,186.40 V221.48 M553.99,186.40 V218.62 M557.20,186.40 V214.98 M560.42,186.40 V210.72 M563.63,186.40 V206.83 M566.85,186.40 V202.69 M570.06,186.40 V198.56 M573.28,186.40 V194.67 M576.49,186.40 V191.08 M579.71,186.40 V188.22 M582.92,186.40 V186.10 M586.14,186.40 V184.21 M589.36,186.40 V182.75 M592.57,186.40 V181.96 M595.79,186.40 V181.54 M599.00,186.40 V181.54 M602.22,186.40 V181.72 M605.43,186.40 V182.27 M608.65,186.40 V182.75 M611.86,186.40 V183.36 M615.08,186.40 V184.21 M618.29,186.40 V184.76 M621.51,186.40 V185.31 M624.72,186.40 V185.55 M627.94,186.40 V185.79 M631.15,186.40 V186.10 M634.37,186.40 V186.10 M637.58,186.40 V186.22 M640.80,186.40 V186.40" stroke="#2c2cff" stroke-width="0.85" fill="none"/>
<g fill="none" stroke="#2c2cff" stroke-width="1.05"><circle cx="409.30" cy="186.40" r="1.5"/><circle cx="412.52" cy="187.19" r="1.5"/><circle cx="415.73" cy="188.22" r="1.5"/><circle cx="418.95" cy="189.44" r="1.5"/><circle cx="422.16" cy="190.41" r="1.5"/><circle cx="425.38" cy="191.87" r="1.5"/><circle cx="428.59" cy="192.84" r="1.5"/><circle cx="431.81" cy="193.70" r="1.5"/><circle cx="435.02" cy="194.30" r="1.5"/><circle cx="438.24" cy="194.73" r="1.5"/><circle cx="441.45" cy="194.73" r="1.5"/><circle cx="444.67" cy="193.94" r="1.5"/><circle cx="447.88" cy="191.87" r="1.5"/><circle cx="451.10" cy="189.08" r="1.5"/><circle cx="454.31" cy="185.61" r="1.5"/><circle cx="457.53" cy="181.54" r="1.5"/><circle cx="460.74" cy="176.98" r="1.5"/><circle cx="463.96" cy="172.11" r="1.5"/><circle cx="467.18" cy="166.94" r="1.5"/><circle cx="470.39" cy="162.69" r="1.5"/><circle cx="473.61" cy="158.74" r="1.5"/><circle cx="476.82" cy="155.39" r="1.5"/><circle cx="480.04" cy="152.78" r="1.5"/><circle cx="483.25" cy="150.89" r="1.5"/><circle cx="486.47" cy="150.10" r="1.5"/><circle cx="489.68" cy="150.65" r="1.5"/><circle cx="492.90" cy="152.78" r="1.5"/><circle cx="496.11" cy="156.30" r="1.5"/><circle cx="499.33" cy="160.86" r="1.5"/><circle cx="502.54" cy="166.34" r="1.5"/><circle cx="505.76" cy="172.42" r="1.5"/><circle cx="508.97" cy="179.10" r="1.5"/><circle cx="512.19" cy="185.79" r="1.5"/><circle cx="515.40" cy="192.48" r="1.5"/><circle cx="518.62" cy="198.56" r="1.5"/><circle cx="521.83" cy="204.64" r="1.5"/><circle cx="525.05" cy="210.72" r="1.5"/><circle cx="528.27" cy="215.95" r="1.5"/><circle cx="531.48" cy="220.14" r="1.5"/><circle cx="534.70" cy="222.88" r="1.5"/><circle cx="537.91" cy="224.52" r="1.5"/><circle cx="541.13" cy="225.07" r="1.5"/><circle cx="544.34" cy="224.70" r="1.5"/><circle cx="547.56" cy="223.49" r="1.5"/><circle cx="550.77" cy="221.48" r="1.5"/><circle cx="553.99" cy="218.62" r="1.5"/><circle cx="557.20" cy="214.98" r="1.5"/><circle cx="560.42" cy="210.72" r="1.5"/><circle cx="563.63" cy="206.83" r="1.5"/><circle cx="566.85" cy="202.69" r="1.5"/><circle cx="570.06" cy="198.56" r="1.5"/><circle cx="573.28" cy="194.67" r="1.5"/><circle cx="576.49" cy="191.08" r="1.5"/><circle cx="579.71" cy="188.22" r="1.5"/><circle cx="582.92" cy="186.10" r="1.5"/><circle cx="586.14" cy="184.21" r="1.5"/><circle cx="589.36" cy="182.75" r="1.5"/><circle cx="592.57" cy="181.96" r="1.5"/><circle cx="595.79" cy="181.54" r="1.5"/><circle cx="599.00" cy="181.54" r="1.5"/><circle cx="602.22" cy="181.72" r="1.5"/><circle cx="605.43" cy="182.27" r="1.5"/><circle cx="608.65" cy="182.75" r="1.5"/><circle cx="611.86" cy="183.36" r="1.5"/><circle cx="615.08" cy="184.21" r="1.5"/><circle cx="618.29" cy="184.76" r="1.5"/><circle cx="621.51" cy="185.31" r="1.5"/><circle cx="624.72" cy="185.55" r="1.5"/><circle cx="627.94" cy="185.79" r="1.5"/><circle cx="631.15" cy="186.10" r="1.5"/><circle cx="634.37" cy="186.10" r="1.5"/><circle cx="637.58" cy="186.22" r="1.5"/><circle cx="640.80" cy="186.40" r="1.5"/></g>
<text x="592.0" y="228.8" font-size="9.3" fill="#303030">Lag = 5</text>
<text x="592.0" y="240.8" font-size="9.3" fill="#303030">r = -0.63</text>
<text x="525.0" y="274.2" font-size="10.2" fill="#303030" text-anchor="middle">Lag (month)</text>
<text transform="translate(385.0,186.4) rotate(-90)" font-size="10.2" fill="#303030" text-anchor="middle">Correlation</text>
<rect x="50.6" y="283.8" width="593.3" height="159.5" fill="#fff" stroke="#e3e3e3" stroke-width="1.2"/>
<text transform="translate(38.5,300.4) scale(0.96,1)" font-size="17.5" fill="#000" stroke="#000" stroke-width="0.3">b</text>
<g fill="none">
<path d="M87.6,290.5 H317.4 M87.6,412.2 H317.4" stroke="#7a7a7a" stroke-width="0.8"/>
<path d="M93.3,412.2 v-2.4 M93.3,290.5 v2.4 M131.9,412.2 v-2.4 M131.9,290.5 v2.4 M170.5,412.2 v-2.4 M170.5,290.5 v2.4 M209.1,412.2 v-2.4 M209.1,290.5 v2.4 M247.7,412.2 v-2.4 M247.7,290.5 v2.4 M286.3,412.2 v-2.4 M286.3,290.5 v2.4" stroke="#7a7a7a" stroke-width="0.8"/>
<path d="M87.6,290.5 V412.2 M87.6,290.5 h2.4 M87.6,327.7 h2.4 M87.6,365.3 h2.4 M87.6,403.2 h2.4" stroke="#0072BD" stroke-width="0.8" opacity="0.6"/>
<path d="M317.4,290.5 V412.2 M317.4,291.0 h-2.4 M317.4,314.8 h-2.4 M317.4,338.9 h-2.4 M317.4,363.3 h-2.4 M317.4,387.6 h-2.4 M317.4,411.9 h-2.4" stroke="#D95319" stroke-width="0.8" opacity="0.6"/>
</g>
<clipPath id="cp1"><rect x="87.6" y="290.5" width="229.79999999999998" height="121.69999999999999"/></clipPath>
<g clip-path="url(#cp1)" fill="none" stroke-linejoin="round">
<path d="M87.58,357.53 C88.58,358.03 91.58,359.57 93.58,360.54 C95.59,361.50 97.52,362.79 99.59,363.33 C101.67,363.86 103.88,364.11 106.03,363.76 C108.18,363.40 110.32,362.58 112.47,361.18 C114.61,359.79 116.76,357.71 118.91,355.39 C121.05,353.06 123.20,350.02 125.34,347.23 C127.49,344.44 129.64,340.97 131.78,338.65 C133.93,336.32 136.07,334.79 138.22,333.28 C140.36,331.78 142.51,330.67 144.66,329.64 C146.80,328.60 148.98,327.78 151.09,327.06 C153.20,326.34 155.17,325.77 157.32,325.34 C159.46,324.91 161.79,324.56 163.97,324.48 C166.15,324.41 168.26,324.59 170.41,324.91 C172.55,325.24 174.70,325.77 176.85,326.42 C178.99,327.06 181.14,327.88 183.28,328.78 C185.43,329.67 187.58,330.67 189.72,331.78 C191.87,332.89 194.02,334.21 196.16,335.43 C198.30,336.65 200.43,337.93 202.58,339.08 C204.72,340.22 206.87,341.22 209.01,342.30 C211.16,343.37 213.30,344.33 215.45,345.52 C217.60,346.70 219.74,348.16 221.89,349.38 C224.03,350.59 226.18,351.81 228.33,352.81 C230.47,353.81 232.62,354.60 234.76,355.39 C236.91,356.17 239.06,356.89 241.20,357.53 C243.35,358.18 245.49,358.75 247.64,359.25 C249.79,359.75 251.93,360.18 254.08,360.54 C256.22,360.89 258.44,361.18 260.52,361.39 C262.59,361.61 264.45,361.82 266.52,361.82 C268.60,361.82 270.82,361.61 272.96,361.39 C275.11,361.18 277.25,360.89 279.40,360.54 C281.55,360.18 283.69,359.71 285.84,359.25 C287.98,358.78 290.13,358.25 292.27,357.75 C294.42,357.25 296.57,356.75 298.71,356.24 C300.86,355.74 303.00,355.21 305.15,354.74 C307.30,354.28 309.51,353.85 311.59,353.45 C313.66,353.06 316.60,352.56 317.60,352.38" stroke="#2c2cff" stroke-width="1.1"/>
<path d="M87.58,378.78 L93.58,370.41 L99.59,366.55 L106.03,369.12 L112.47,371.48 L118.91,374.27 L125.77,384.14 L131.78,385.00 L138.22,382.64 L144.66,380.06 L151.09,371.91 L157.32,361.18 L163.97,355.39 L170.41,351.52 L176.85,349.38 L183.28,346.59 L189.72,341.22 L195.52,327.92 L202.58,321.05 L209.01,326.20 L215.45,332.21 L221.89,341.22 L228.33,355.82 L234.76,369.76 L241.20,380.49 L247.64,390.15 L254.08,397.66 L260.52,402.60 L266.52,404.31 L272.96,403.24 L279.40,402.17 L285.84,401.09 L292.27,390.15 L298.71,384.79 L305.15,381.14 L311.59,375.56 L317.60,372.34" stroke="#202020" stroke-width="1.02"/>
</g>
<rect x="245.0" y="296.8" width="66.80000000000001" height="23.19999999999999" fill="#fff" stroke="#757575" stroke-width="0.8"/>
<path d="M247.8,303.5 h22.4" stroke="#2c2cff" stroke-width="1.2" opacity="0.75"/><path d="M247.8,314.1 h22.4" stroke="#202020" stroke-width="1.1" opacity="0.75"/>
<text x="272.2" y="306.5" font-size="8.2" fill="#111" textLength="37.5" lengthAdjust="spacingAndGlyphs">PC2 PWV</text>
<text x="272.2" y="317.1" font-size="8.2" fill="#111">ONI</text>
<text x="93.3" y="425.4" font-size="9.3" fill="#303030" text-anchor="middle">07-2008</text>
<text x="131.9" y="425.4" font-size="9.3" fill="#303030" text-anchor="middle">01-2009</text>
<text x="170.5" y="425.4" font-size="9.3" fill="#303030" text-anchor="middle">07-2009</text>
<text x="209.1" y="425.4" font-size="9.3" fill="#303030" text-anchor="middle">01-2010</text>
<text x="247.7" y="425.4" font-size="9.3" fill="#303030" text-anchor="middle">07-2010</text>
<text x="286.3" y="425.4" font-size="9.3" fill="#303030" text-anchor="middle">01-2011</text>
<text x="83.3" y="293.8" font-size="9.3" fill="#0072BD" text-anchor="end">200</text>
<text x="83.3" y="331.0" font-size="9.3" fill="#0072BD" text-anchor="end">0</text>
<text x="83.3" y="368.6" font-size="9.3" fill="#0072BD" text-anchor="end">-200</text>
<text x="83.3" y="406.5" font-size="9.3" fill="#0072BD" text-anchor="end">-400</text>
<text x="321.0" y="293.9" font-size="9.3" fill="#D95319">3</text>
<text x="321.0" y="318.2" font-size="9.3" fill="#D95319">2</text>
<text x="321.0" y="342.6" font-size="9.3" fill="#D95319">1</text>
<text x="321.0" y="367.2" font-size="9.3" fill="#D95319">0</text>
<text x="321.0" y="391.7" font-size="9.3" fill="#D95319">-1</text>
<text x="321.0" y="416.1" font-size="9.3" fill="#D95319">-2</text>
<text transform="translate(61.2,351.4) rotate(-90)" font-size="10.3" fill="#0072BD" text-anchor="middle">PWV(mm)</text>
<text transform="translate(343.0,351.4) rotate(-90)" font-size="10.4" fill="#D95319" text-anchor="middle">Index</text>
<text x="202.5" y="439.2" font-size="10.2" fill="#303030" text-anchor="middle">Time</text>
<rect x="409.0" y="290.5" width="230.79999999999995" height="121.5" fill="none" stroke="#7a7a7a" stroke-width="0.8"/>
<text x="428.2" y="425.3" font-size="9.3" fill="#303030" text-anchor="middle">-30</text>
<text x="460.3" y="425.3" font-size="9.3" fill="#303030" text-anchor="middle">-20</text>
<text x="492.3" y="425.3" font-size="9.3" fill="#303030" text-anchor="middle">-10</text>
<text x="524.4" y="425.3" font-size="9.3" fill="#303030" text-anchor="middle">0</text>
<text x="556.5" y="425.3" font-size="9.3" fill="#303030" text-anchor="middle">10</text>
<text x="588.5" y="425.3" font-size="9.3" fill="#303030" text-anchor="middle">20</text>
<text x="620.6" y="425.3" font-size="9.3" fill="#303030" text-anchor="middle">30</text>
<text x="405.0" y="293.8" font-size="9.3" fill="#303030" text-anchor="end">1</text>
<text x="405.0" y="324.4" font-size="9.3" fill="#303030" text-anchor="end">0.5</text>
<text x="405.0" y="355.0" font-size="9.3" fill="#303030" text-anchor="end">0</text>
<text x="405.0" y="385.6" font-size="9.3" fill="#303030" text-anchor="end">-0.5</text>
<text x="405.0" y="416.2" font-size="9.3" fill="#303030" text-anchor="end">-1</text>
<path d="M428.2,412.0 v-2.4 M428.2,290.5 v2.4 M460.3,412.0 v-2.4 M460.3,290.5 v2.4 M492.3,412.0 v-2.4 M492.3,290.5 v2.4 M524.4,412.0 v-2.4 M524.4,290.5 v2.4 M556.5,412.0 v-2.4 M556.5,290.5 v2.4 M588.5,412.0 v-2.4 M588.5,290.5 v2.4 M620.6,412.0 v-2.4 M620.6,290.5 v2.4 M409.0,290.5 h2.4 M639.8,290.5 h-2.4 M409.0,320.9 h2.4 M639.8,320.9 h-2.4 M409.0,351.2 h2.4 M639.8,351.2 h-2.4 M409.0,381.6 h2.4 M639.8,381.6 h-2.4 M409.0,412.0 h2.4 M639.8,412.0 h-2.4" stroke="#7a7a7a" stroke-width="0.8" fill="none"/>
<path d="M409.0,351.25 H639.8" stroke="#333" stroke-width="0.7"/>
<path d="M409.00,351.25 V350.64 M412.21,351.25 V349.43 M415.41,351.25 V347.61 M418.62,351.25 V345.48 M421.82,351.25 V342.75 M425.03,351.25 V339.40 M428.23,351.25 V336.06 M431.44,351.25 V333.02 M434.64,351.25 V330.29 M437.85,351.25 V328.35 M441.06,351.25 V327.25 M444.26,351.25 V327.25 M447.47,351.25 V328.77 M450.67,351.25 V331.81 M453.88,351.25 V336.37 M457.08,351.25 V342.44 M460.29,351.25 V349.06 M463.49,351.25 V355.50 M466.70,351.25 V361.58 M469.91,351.25 V365.83 M473.11,351.25 V367.65 M476.32,351.25 V367.35 M479.52,351.25 V365.04 M482.73,351.25 V360.97 M485.93,351.25 V355.50 M489.14,351.25 V349.43 M492.34,351.25 V342.44 M495.55,351.25 V335.21 M498.76,351.25 V328.35 M501.96,351.25 V322.27 M505.17,351.25 V316.99 M508.37,351.25 V313.28 M511.58,351.25 V311.15 M514.78,351.25 V311.15 M517.99,351.25 V312.98 M521.19,351.25 V315.41 M524.40,351.25 V318.69 M527.61,351.25 V323.06 M530.81,351.25 V328.17 M534.02,351.25 V333.63 M537.22,351.25 V339.10 M540.43,351.25 V344.57 M543.63,351.25 V350.40 M546.84,351.25 V355.50 M550.04,351.25 V359.75 M553.25,351.25 V363.40 M556.46,351.25 V366.13 M559.66,351.25 V367.83 M562.87,351.25 V368.26 M566.07,351.25 V367.53 M569.28,351.25 V365.59 M572.48,351.25 V362.55 M575.69,351.25 V358.72 M578.89,351.25 V354.89 M582.10,351.25 V351.25 M585.31,351.25 V347.91 M588.51,351.25 V345.18 M591.72,351.25 V342.99 M594.92,351.25 V341.29 M598.13,351.25 V340.31 M601.33,351.25 V339.40 M604.54,351.25 V339.10 M607.74,351.25 V339.40 M610.95,351.25 V340.31 M614.16,351.25 V341.53 M617.36,351.25 V343.35 M620.57,351.25 V344.87 M623.77,351.25 V346.39 M626.98,351.25 V347.36 M630.18,351.25 V348.21 M633.39,351.25 V349.06 M636.59,351.25 V349.61 M639.80,351.25 V350.16" stroke="#2c2cff" stroke-width="0.85" fill="none"/>
<g fill="none" stroke="#2c2cff" stroke-width="1.05"><circle cx="409.00" cy="350.64" r="1.5"/><circle cx="412.21" cy="349.43" r="1.5"/><circle cx="415.41" cy="347.61" r="1.5"/><circle cx="418.62" cy="345.48" r="1.5"/><circle cx="421.82" cy="342.75" r="1.5"/><circle cx="425.03" cy="339.40" r="1.5"/><circle cx="428.23" cy="336.06" r="1.5"/><circle cx="431.44" cy="333.02" r="1.5"/><circle cx="434.64" cy="330.29" r="1.5"/><circle cx="437.85" cy="328.35" r="1.5"/><circle cx="441.06" cy="327.25" r="1.5"/><circle cx="444.26" cy="327.25" r="1.5"/><circle cx="447.47" cy="328.77" r="1.5"/><circle cx="450.67" cy="331.81" r="1.5"/><circle cx="453.88" cy="336.37" r="1.5"/><circle cx="457.08" cy="342.44" r="1.5"/><circle cx="460.29" cy="349.06" r="1.5"/><circle cx="463.49" cy="355.50" r="1.5"/><circle cx="466.70" cy="361.58" r="1.5"/><circle cx="469.91" cy="365.83" r="1.5"/><circle cx="473.11" cy="367.65" r="1.5"/><circle cx="476.32" cy="367.35" r="1.5"/><circle cx="479.52" cy="365.04" r="1.5"/><circle cx="482.73" cy="360.97" r="1.5"/><circle cx="485.93" cy="355.50" r="1.5"/><circle cx="489.14" cy="349.43" r="1.5"/><circle cx="492.34" cy="342.44" r="1.5"/><circle cx="495.55" cy="335.21" r="1.5"/><circle cx="498.76" cy="328.35" r="1.5"/><circle cx="501.96" cy="322.27" r="1.5"/><circle cx="505.17" cy="316.99" r="1.5"/><circle cx="508.37" cy="313.28" r="1.5"/><circle cx="511.58" cy="311.15" r="1.5"/><circle cx="514.78" cy="311.15" r="1.5"/><circle cx="517.99" cy="312.98" r="1.5"/><circle cx="521.19" cy="315.41" r="1.5"/><circle cx="524.40" cy="318.69" r="1.5"/><circle cx="527.61" cy="323.06" r="1.5"/><circle cx="530.81" cy="328.17" r="1.5"/><circle cx="534.02" cy="333.63" r="1.5"/><circle cx="537.22" cy="339.10" r="1.5"/><circle cx="540.43" cy="344.57" r="1.5"/><circle cx="543.63" cy="350.40" r="1.5"/><circle cx="546.84" cy="355.50" r="1.5"/><circle cx="550.04" cy="359.75" r="1.5"/><circle cx="553.25" cy="363.40" r="1.5"/><circle cx="556.46" cy="366.13" r="1.5"/><circle cx="559.66" cy="367.83" r="1.5"/><circle cx="562.87" cy="368.26" r="1.5"/><circle cx="566.07" cy="367.53" r="1.5"/><circle cx="569.28" cy="365.59" r="1.5"/><circle cx="572.48" cy="362.55" r="1.5"/><circle cx="575.69" cy="358.72" r="1.5"/><circle cx="578.89" cy="354.89" r="1.5"/><circle cx="582.10" cy="351.25" r="1.5"/><circle cx="585.31" cy="347.91" r="1.5"/><circle cx="588.51" cy="345.18" r="1.5"/><circle cx="591.72" cy="342.99" r="1.5"/><circle cx="594.92" cy="341.29" r="1.5"/><circle cx="598.13" cy="340.31" r="1.5"/><circle cx="601.33" cy="339.40" r="1.5"/><circle cx="604.54" cy="339.10" r="1.5"/><circle cx="607.74" cy="339.40" r="1.5"/><circle cx="610.95" cy="340.31" r="1.5"/><circle cx="614.16" cy="341.53" r="1.5"/><circle cx="617.36" cy="343.35" r="1.5"/><circle cx="620.57" cy="344.87" r="1.5"/><circle cx="623.77" cy="346.39" r="1.5"/><circle cx="626.98" cy="347.36" r="1.5"/><circle cx="630.18" cy="348.21" r="1.5"/><circle cx="633.39" cy="349.06" r="1.5"/><circle cx="636.59" cy="349.61" r="1.5"/><circle cx="639.80" cy="350.16" r="1.5"/></g>
<text x="591.3" y="393.3" font-size="9.3" fill="#303030">Lag = -4</text>
<text x="591.3" y="405.2" font-size="9.3" fill="#303030">r = 0.66</text>
<text x="524.4" y="439.0" font-size="10.2" fill="#303030" text-anchor="middle">Lag (month)</text>
<text transform="translate(385.0,351.2) rotate(-90)" font-size="10.2" fill="#303030" text-anchor="middle">Correlation</text>
<rect x="50.6" y="451.6" width="593.3" height="159.69999999999993" fill="#fff" stroke="#e3e3e3" stroke-width="1.2"/>
<text transform="translate(38.4,462.9) scale(0.86,1)" font-size="17.0" fill="#000" stroke="#000" stroke-width="0.3">c</text>
<g fill="none">
<path d="M88.6,456.4 H317.6 M88.6,579.3 H317.6" stroke="#7a7a7a" stroke-width="0.8"/>
<path d="M101.5,579.3 v-2.4 M101.5,456.4 v2.4 M139.8,579.3 v-2.4 M139.8,456.4 v2.4 M178.0,579.3 v-2.4 M178.0,456.4 v2.4 M216.2,579.3 v-2.4 M216.2,456.4 v2.4 M254.5,579.3 v-2.4 M254.5,456.4 v2.4 M292.8,579.3 v-2.4 M292.8,456.4 v2.4" stroke="#7a7a7a" stroke-width="0.8"/>
<path d="M88.6,456.4 V579.3 M88.6,456.4 h2.4 M88.6,494.4 h2.4 M88.6,532.2 h2.4 M88.6,570.2 h2.4" stroke="#0072BD" stroke-width="0.8" opacity="0.6"/>
<path d="M317.6,456.4 V579.3 M317.6,456.5 h-2.4 M317.6,481.4 h-2.4 M317.6,505.9 h-2.4 M317.6,530.5 h-2.4 M317.6,555.1 h-2.4 M317.6,579.3 h-2.4" stroke="#D95319" stroke-width="0.8" opacity="0.6"/>
</g>
<clipPath id="cp2"><rect x="88.6" y="456.4" width="229.00000000000003" height="122.89999999999998"/></clipPath>
<g clip-path="url(#cp2)" fill="none" stroke-linejoin="round">
<path d="M88.65,487.55 C89.72,487.48 92.94,487.23 95.09,487.12 C97.23,487.02 99.38,486.98 101.52,486.91 C103.67,486.84 105.82,486.73 107.96,486.70 C110.11,486.66 112.25,486.70 114.40,486.70 C116.55,486.70 118.69,486.66 120.84,486.70 C122.98,486.73 125.13,486.77 127.27,486.91 C129.42,487.05 131.57,487.23 133.71,487.55 C135.86,487.88 138.00,488.23 140.15,488.84 C142.30,489.45 144.51,490.24 146.59,491.20 C148.66,492.17 150.52,493.28 152.60,494.64 C154.67,495.99 156.89,497.64 159.03,499.36 C161.18,501.07 163.33,502.93 165.47,504.94 C167.62,506.94 169.84,509.16 171.91,511.37 C173.98,513.59 175.84,515.95 177.92,518.24 C179.99,520.53 182.21,522.85 184.36,525.11 C186.50,527.36 188.65,529.76 190.79,531.76 C192.94,533.76 195.05,535.55 197.23,537.12 C199.41,538.70 201.68,540.04 203.86,541.20 C206.04,542.36 208.15,543.28 210.30,544.10 C212.45,544.92 214.59,545.55 216.74,546.14 C218.88,546.73 221.03,547.50 223.18,547.64 C225.32,547.78 227.58,547.89 229.61,547.00 C231.65,546.10 233.37,544.67 235.41,542.27 C237.45,539.88 239.70,536.55 241.85,532.62 C243.99,528.68 246.14,523.50 248.28,518.67 C250.43,513.84 252.58,508.12 254.72,503.65 C256.87,499.18 259.08,494.64 261.16,491.85 C263.23,489.06 265.27,487.95 267.17,486.91 C269.06,485.87 270.39,485.66 272.53,485.62 C274.68,485.59 277.72,486.19 280.04,486.70 C282.37,487.20 284.33,488.02 286.48,488.63 C288.63,489.23 290.77,489.81 292.92,490.34 C295.06,490.88 297.21,491.38 299.36,491.85 C301.50,492.31 303.65,492.81 305.79,493.13 C307.94,493.45 310.26,493.71 312.23,493.78 C314.20,493.85 316.70,493.60 317.60,493.56" stroke="#2c2cff" stroke-width="1.1"/>
<path d="M88.65,522.53 L95.09,524.68 L101.52,531.55 L107.96,530.90 L114.40,523.39 L120.84,519.10 L127.27,511.59 L133.71,512.45 L140.15,517.60 L146.59,519.74 L152.60,518.45 L159.03,513.09 L165.47,506.87 L171.91,501.07 L177.92,494.64 L184.36,482.62 L190.79,476.18 L197.23,471.89 L203.86,463.30 L210.30,464.59 L216.74,466.74 L223.18,474.68 L229.61,491.85 L235.41,507.94 L241.85,522.96 L248.28,533.69 L254.72,541.85 L261.16,543.99 L267.17,544.42 L273.61,548.28 L280.04,548.93 L286.48,542.70 L292.92,540.77 L299.36,532.19 L305.79,528.97 L312.23,525.11 L317.60,521.46" stroke="#202020" stroke-width="1.02"/>
</g>
<rect x="246.8" y="462.9" width="65.5" height="23.30000000000001" fill="#fff" stroke="#757575" stroke-width="0.8"/>
<path d="M248.3,469.59999999999997 h22.4" stroke="#2c2cff" stroke-width="1.2" opacity="0.75"/><path d="M248.3,480.2 h22.4" stroke="#202020" stroke-width="1.1" opacity="0.75"/>
<text x="272.7" y="472.59999999999997" font-size="8.2" fill="#111" textLength="37.5" lengthAdjust="spacingAndGlyphs">PC2 PWV</text>
<text x="272.7" y="483.2" font-size="8.2" fill="#111">ONI</text>
<text x="101.5" y="593.5" font-size="9.3" fill="#303030" text-anchor="middle">07-2014</text>
<text x="139.8" y="593.5" font-size="9.3" fill="#303030" text-anchor="middle">01-2015</text>
<text x="178.0" y="593.5" font-size="9.3" fill="#303030" text-anchor="middle">07-2015</text>
<text x="216.2" y="593.5" font-size="9.3" fill="#303030" text-anchor="middle">01-2016</text>
<text x="254.5" y="593.5" font-size="9.3" fill="#303030" text-anchor="middle">07-2016</text>
<text x="292.8" y="593.5" font-size="9.3" fill="#303030" text-anchor="middle">01-2017</text>
<text x="84.3" y="459.7" font-size="9.3" fill="#0072BD" text-anchor="end">200</text>
<text x="84.3" y="497.7" font-size="9.3" fill="#0072BD" text-anchor="end">0</text>
<text x="84.3" y="535.5" font-size="9.3" fill="#0072BD" text-anchor="end">-200</text>
<text x="84.3" y="573.5" font-size="9.3" fill="#0072BD" text-anchor="end">-400</text>
<text x="321.20000000000005" y="460.1" font-size="9.3" fill="#D95319">3</text>
<text x="321.20000000000005" y="485.2" font-size="9.3" fill="#D95319">2</text>
<text x="321.20000000000005" y="509.6" font-size="9.3" fill="#D95319">1</text>
<text x="321.20000000000005" y="534.6" font-size="9.3" fill="#D95319">0</text>
<text x="321.20000000000005" y="559.2" font-size="9.3" fill="#D95319">-1</text>
<text x="321.20000000000005" y="583.8" font-size="9.3" fill="#D95319">-2</text>
<text transform="translate(61.2,517.8) rotate(-90)" font-size="10.3" fill="#0072BD" text-anchor="middle">PWV(mm)</text>
<text transform="translate(343.0,517.8) rotate(-90)" font-size="10.4" fill="#D95319" text-anchor="middle">Index</text>
<text x="203.1" y="606.3" font-size="10.2" fill="#303030" text-anchor="middle">Time</text>
<rect x="408.4" y="456.6" width="230.5" height="122.89999999999998" fill="none" stroke="#7a7a7a" stroke-width="0.8"/>
<text x="427.6" y="592.8" font-size="9.3" fill="#303030" text-anchor="middle">-30</text>
<text x="459.6" y="592.8" font-size="9.3" fill="#303030" text-anchor="middle">-20</text>
<text x="491.6" y="592.8" font-size="9.3" fill="#303030" text-anchor="middle">-10</text>
<text x="523.6" y="592.8" font-size="9.3" fill="#303030" text-anchor="middle">0</text>
<text x="555.7" y="592.8" font-size="9.3" fill="#303030" text-anchor="middle">10</text>
<text x="587.7" y="592.8" font-size="9.3" fill="#303030" text-anchor="middle">20</text>
<text x="619.7" y="592.8" font-size="9.3" fill="#303030" text-anchor="middle">30</text>
<text x="404.4" y="459.9" font-size="9.3" fill="#303030" text-anchor="end">1</text>
<text x="404.4" y="490.8" font-size="9.3" fill="#303030" text-anchor="end">0.5</text>
<text x="404.4" y="521.8" font-size="9.3" fill="#303030" text-anchor="end">0</text>
<text x="404.4" y="552.7" font-size="9.3" fill="#303030" text-anchor="end">-0.5</text>
<text x="404.4" y="583.7" font-size="9.3" fill="#303030" text-anchor="end">-1</text>
<path d="M427.6,579.5 v-2.4 M427.6,456.6 v2.4 M459.6,579.5 v-2.4 M459.6,456.6 v2.4 M491.6,579.5 v-2.4 M491.6,456.6 v2.4 M523.6,579.5 v-2.4 M523.6,456.6 v2.4 M555.7,579.5 v-2.4 M555.7,456.6 v2.4 M587.7,579.5 v-2.4 M587.7,456.6 v2.4 M619.7,579.5 v-2.4 M619.7,456.6 v2.4 M408.4,456.6 h2.4 M638.9,456.6 h-2.4 M408.4,487.3 h2.4 M638.9,487.3 h-2.4 M408.4,518.0 h2.4 M638.9,518.0 h-2.4 M408.4,548.8 h2.4 M638.9,548.8 h-2.4 M408.4,579.5 h2.4 M638.9,579.5 h-2.4" stroke="#7a7a7a" stroke-width="0.8" fill="none"/>
<path d="M408.4,518.05 H638.9" stroke="#333" stroke-width="0.7"/>
<path d="M408.40,518.05 V518.05 M411.60,518.05 V518.05 M414.80,518.05 V518.05 M418.00,518.05 V518.05 M421.21,518.05 V518.30 M424.41,518.05 V518.36 M427.61,518.05 V518.66 M430.81,518.05 V518.91 M434.01,518.05 V519.28 M437.21,518.05 V519.71 M440.41,518.05 V519.89 M443.62,518.05 V520.26 M446.82,518.05 V520.26 M450.02,518.05 V519.89 M453.22,518.05 V519.28 M456.42,518.05 V518.36 M459.62,518.05 V516.82 M462.82,518.05 V514.98 M466.02,518.05 V513.13 M469.23,518.05 V510.86 M472.43,518.05 V508.65 M475.63,518.05 V506.68 M478.83,518.05 V505.15 M482.03,518.05 V503.67 M485.23,518.05 V503.12 M488.43,518.05 V503.12 M491.64,518.05 V504.22 M494.84,518.05 V506.68 M498.04,518.05 V510.86 M501.24,518.05 V516.21 M504.44,518.05 V522.97 M507.64,518.05 V530.95 M510.84,518.05 V539.86 M514.05,518.05 V548.77 M517.25,518.05 V557.38 M520.45,518.05 V565.06 M523.65,518.05 V571.20 M526.85,518.05 V574.77 M530.05,518.05 V576.43 M533.25,518.05 V575.81 M536.46,518.05 V572.56 M539.66,518.05 V567.21 M542.86,518.05 V561.06 M546.06,518.05 V554.31 M549.26,518.05 V547.55 M552.46,518.05 V541.59 M555.66,518.05 V536.48 M558.87,518.05 V532.80 M562.07,518.05 V529.97 M565.27,518.05 V527.88 M568.47,518.05 V526.65 M571.67,518.05 V525.42 M574.87,518.05 V524.44 M578.07,518.05 V523.33 M581.27,518.05 V522.23 M584.48,518.05 V520.82 M587.68,518.05 V519.71 M590.88,518.05 V518.91 M594.08,518.05 V518.36 M597.28,518.05 V518.05 M600.48,518.05 V517.87 M603.68,518.05 V517.74 M606.89,518.05 V517.74 M610.09,518.05 V517.74 M613.29,518.05 V517.74 M616.49,518.05 V517.80 M619.69,518.05 V517.87 M622.89,518.05 V517.93 M626.09,518.05 V518.05 M629.30,518.05 V518.05 M632.50,518.05 V518.05 M635.70,518.05 V518.05 M638.90,518.05 V518.05" stroke="#2c2cff" stroke-width="0.85" fill="none"/>
<g fill="none" stroke="#2c2cff" stroke-width="1.05"><circle cx="408.40" cy="518.05" r="1.5"/><circle cx="411.60" cy="518.05" r="1.5"/><circle cx="414.80" cy="518.05" r="1.5"/><circle cx="418.00" cy="518.05" r="1.5"/><circle cx="421.21" cy="518.30" r="1.5"/><circle cx="424.41" cy="518.36" r="1.5"/><circle cx="427.61" cy="518.66" r="1.5"/><circle cx="430.81" cy="518.91" r="1.5"/><circle cx="434.01" cy="519.28" r="1.5"/><circle cx="437.21" cy="519.71" r="1.5"/><circle cx="440.41" cy="519.89" r="1.5"/><circle cx="443.62" cy="520.26" r="1.5"/><circle cx="446.82" cy="520.26" r="1.5"/><circle cx="450.02" cy="519.89" r="1.5"/><circle cx="453.22" cy="519.28" r="1.5"/><circle cx="456.42" cy="518.36" r="1.5"/><circle cx="459.62" cy="516.82" r="1.5"/><circle cx="462.82" cy="514.98" r="1.5"/><circle cx="466.02" cy="513.13" r="1.5"/><circle cx="469.23" cy="510.86" r="1.5"/><circle cx="472.43" cy="508.65" r="1.5"/><circle cx="475.63" cy="506.68" r="1.5"/><circle cx="478.83" cy="505.15" r="1.5"/><circle cx="482.03" cy="503.67" r="1.5"/><circle cx="485.23" cy="503.12" r="1.5"/><circle cx="488.43" cy="503.12" r="1.5"/><circle cx="491.64" cy="504.22" r="1.5"/><circle cx="494.84" cy="506.68" r="1.5"/><circle cx="498.04" cy="510.86" r="1.5"/><circle cx="501.24" cy="516.21" r="1.5"/><circle cx="504.44" cy="522.97" r="1.5"/><circle cx="507.64" cy="530.95" r="1.5"/><circle cx="510.84" cy="539.86" r="1.5"/><circle cx="514.05" cy="548.77" r="1.5"/><circle cx="517.25" cy="557.38" r="1.5"/><circle cx="520.45" cy="565.06" r="1.5"/><circle cx="523.65" cy="571.20" r="1.5"/><circle cx="526.85" cy="574.77" r="1.5"/><circle cx="530.05" cy="576.43" r="1.5"/><circle cx="533.25" cy="575.81" r="1.5"/><circle cx="536.46" cy="572.56" r="1.5"/><circle cx="539.66" cy="567.21" r="1.5"/><circle cx="542.86" cy="561.06" r="1.5"/><circle cx="546.06" cy="554.31" r="1.5"/><circle cx="549.26" cy="547.55" r="1.5"/><circle cx="552.46" cy="541.59" r="1.5"/><circle cx="555.66" cy="536.48" r="1.5"/><circle cx="558.87" cy="532.80" r="1.5"/><circle cx="562.07" cy="529.97" r="1.5"/><circle cx="565.27" cy="527.88" r="1.5"/><circle cx="568.47" cy="526.65" r="1.5"/><circle cx="571.67" cy="525.42" r="1.5"/><circle cx="574.87" cy="524.44" r="1.5"/><circle cx="578.07" cy="523.33" r="1.5"/><circle cx="581.27" cy="522.23" r="1.5"/><circle cx="584.48" cy="520.82" r="1.5"/><circle cx="587.68" cy="519.71" r="1.5"/><circle cx="590.88" cy="518.91" r="1.5"/><circle cx="594.08" cy="518.36" r="1.5"/><circle cx="597.28" cy="518.05" r="1.5"/><circle cx="600.48" cy="517.87" r="1.5"/><circle cx="603.68" cy="517.74" r="1.5"/><circle cx="606.89" cy="517.74" r="1.5"/><circle cx="610.09" cy="517.74" r="1.5"/><circle cx="613.29" cy="517.74" r="1.5"/><circle cx="616.49" cy="517.80" r="1.5"/><circle cx="619.69" cy="517.87" r="1.5"/><circle cx="622.89" cy="517.93" r="1.5"/><circle cx="626.09" cy="518.05" r="1.5"/><circle cx="629.30" cy="518.05" r="1.5"/><circle cx="632.50" cy="518.05" r="1.5"/><circle cx="635.70" cy="518.05" r="1.5"/><circle cx="638.90" cy="518.05" r="1.5"/></g>
<text x="589.8" y="560.6" font-size="9.3" fill="#303030">Lag = 2</text>
<text x="589.8" y="573.5" font-size="9.3" fill="#303030">r = -0.95</text>
<text x="523.6" y="606.5" font-size="10.2" fill="#303030" text-anchor="middle">Lag (month)</text>
<text transform="translate(385.0,518.0) rotate(-90)" font-size="10.2" fill="#303030" text-anchor="middle">Correlation</text>
<rect x="0" y="0" width="685" height="1.2" fill="#7d7d7d"/>
<rect x="0" y="0" width="1.2" height="615" fill="#7d7d7d"/>
<rect x="683.5" y="0" width="1.5" height="615" fill="#9a9a9a"/>
<rect x="0" y="613.7" width="685" height="1.3" fill="#dadada"/>
</g>
</svg>
</body></html>
